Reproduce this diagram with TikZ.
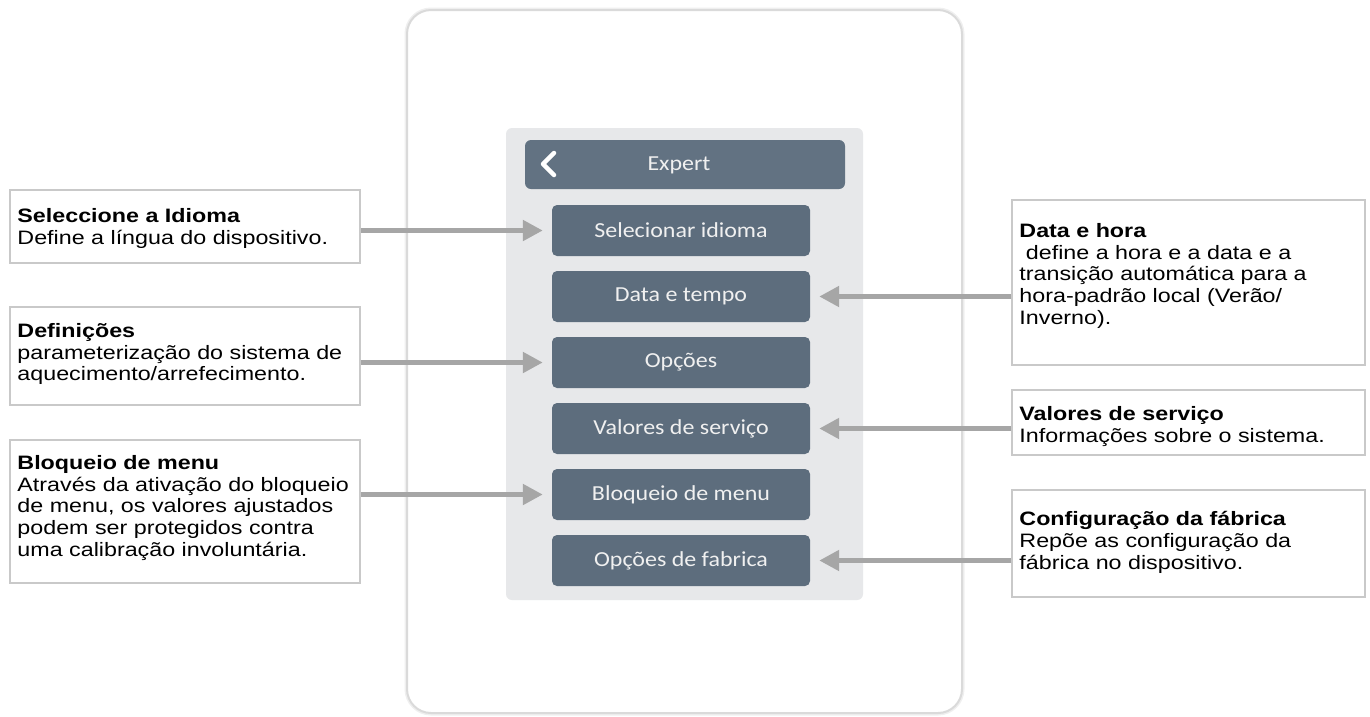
\documentclass[tikz,border=0pt]{standalone}
\usepackage{fontspec}
\setmainfont{Liberation Sans}
\newfontfamily\calfont[FakeStretch=1.2]{Liberation Sans}
\newfontfamily\btnfont[FakeStretch=1.12]{Carlito}
\usetikzlibrary{arrows.meta}
\definecolor{btn}{HTML}{5D6D7D}
\definecolor{hdr}{HTML}{627282}
\definecolor{panel}{HTML}{E7E8EA}
\definecolor{arrowgray}{HTML}{A6A6A6}
\definecolor{boxline}{HTML}{C9C9C9}
\definecolor{devline}{HTML}{DADADA}
\definecolor{devshadow}{HTML}{EFEFEF}
\begin{document}
\begin{tikzpicture}[x=1pt,y=-1pt,
  btnbox/.style={fill=btn, rounded corners=5pt, minimum width=258pt, minimum height=51pt, inner sep=0pt, text=white!94!black, font=\btnfont\fontsize{21.4}{24}\selectfont},
  callbox/.style={draw=boxline, line width=1.5pt, fill=white, inner sep=0pt},
  calltext/.style={anchor=north west, inner sep=0pt, align=left, font=\calfont\fontsize{19.4}{21.7}\selectfont},
  pointer/.style={draw=arrowgray, line width=5pt, -{Triangle[length=20pt,width=20pt]}, shorten >=9pt}
]
\useasboundingbox (0,0) rectangle (1370,716);
% device
\node[draw=devshadow, line width=5pt, rounded corners=24pt, minimum width=555pt, minimum height=703pt, inner sep=0pt] (devsh) at (684.5,361.5) {};
\node[draw=devline, line width=2pt, fill=white, rounded corners=24pt, minimum width=555pt, minimum height=703pt, inner sep=0pt] (device) at (684.5,361.5) {};
% panel
\node[fill=panel, rounded corners=6pt, minimum width=357pt, minimum height=472pt, inner sep=0pt] (panel) at (684.5,364) {};
% header
\node[fill=hdr, rounded corners=6pt, minimum width=320pt, minimum height=49pt, inner sep=0pt] (hdr) at (685,164.5) {};
\node[text=white!94!black, inner sep=0pt, font=\btnfont\fontsize{21.4}{24}\selectfont] (hdrtext) at (679,165) {Expert};
\draw[white, line width=4.5pt, line cap=round, line join=round] (554,153) -- (543,164) -- (554,175);
% buttons
\node[btnbox] (s1) at (681,230.5) {Selecionar idioma};
\node[btnbox] (s2) at (681,296.5) {Data e tempo};
\node[btnbox] (s3) at (681,362.5) {Opções};
\node[btnbox] (s4) at (681,428.5) {Valores de serviço};
\node[btnbox] (s5) at (681,494.5) {Bloqueio de menu};
\node[btnbox] (s6) at (681,560.5) {Opções de fabrica};
% callout boxes
\node[callbox, minimum width=350pt, minimum height=73pt] (b1) at (185,226.5) {};
\node[callbox, minimum width=350pt, minimum height=98pt] (b2) at (185,356) {};
\node[callbox, minimum width=350pt, minimum height=143pt] (b3) at (185,511.5) {};
\node[callbox, minimum width=353pt, minimum height=165pt] (b4) at (1188.5,282.5) {};
\node[callbox, minimum width=353pt, minimum height=65pt] (b5) at (1188.5,422.5) {};
\node[callbox, minimum width=353pt, minimum height=107pt] (b6) at (1188.5,543.5) {};
% callout texts
\node[calltext] (t1) at ([xshift=8pt,yshift=-19pt]b1.north west) {\textbf{Seleccione a Idioma}\\Define a língua do dispositivo.};
\node[calltext] (t2) at ([xshift=8pt,yshift=-17pt]b2.north west) {\textbf{Definições}\\parameterização do sistema de\\aquecimento/arrefecimento.};
\node[calltext] (t3) at ([xshift=8pt,yshift=-16pt]b3.north west) {\textbf{Bloqueio de menu}\\Através da ativação do bloqueio\\de menu, os valores ajustados\\podem ser protegidos contra\\uma calibração involuntária.};
\node[calltext] (t4) at ([xshift=8pt,yshift=-24pt]b4.north west) {\textbf{Data e hora}\\\mbox{}\ define a hora e a data e a\\transição automática para a\\hora-padrão local (Verão/\\Inverno).};
\node[calltext] (t5) at ([xshift=8pt,yshift=-17pt]b5.north west) {\textbf{Valores de serviço}\\Informações sobre o sistema.};
\node[calltext] (t6) at ([xshift=8pt,yshift=-22pt]b6.north west) {\textbf{Configuração da fábrica}\\Repõe as configuração da\\fábrica no dispositivo.};
% pointers
\draw[pointer] (b1.east |- s1.west) -- (s1.west);
\draw[pointer] (b2.east |- s3.west) -- (s3.west);
\draw[pointer] (b3.east |- s5.west) -- (s5.west);
\draw[pointer] (b4.west |- s2.east) -- (s2.east);
\draw[pointer] (b5.west |- s4.east) -- (s4.east);
\draw[pointer] (b6.west |- s6.east) -- (s6.east);
\end{tikzpicture}
\end{document}
